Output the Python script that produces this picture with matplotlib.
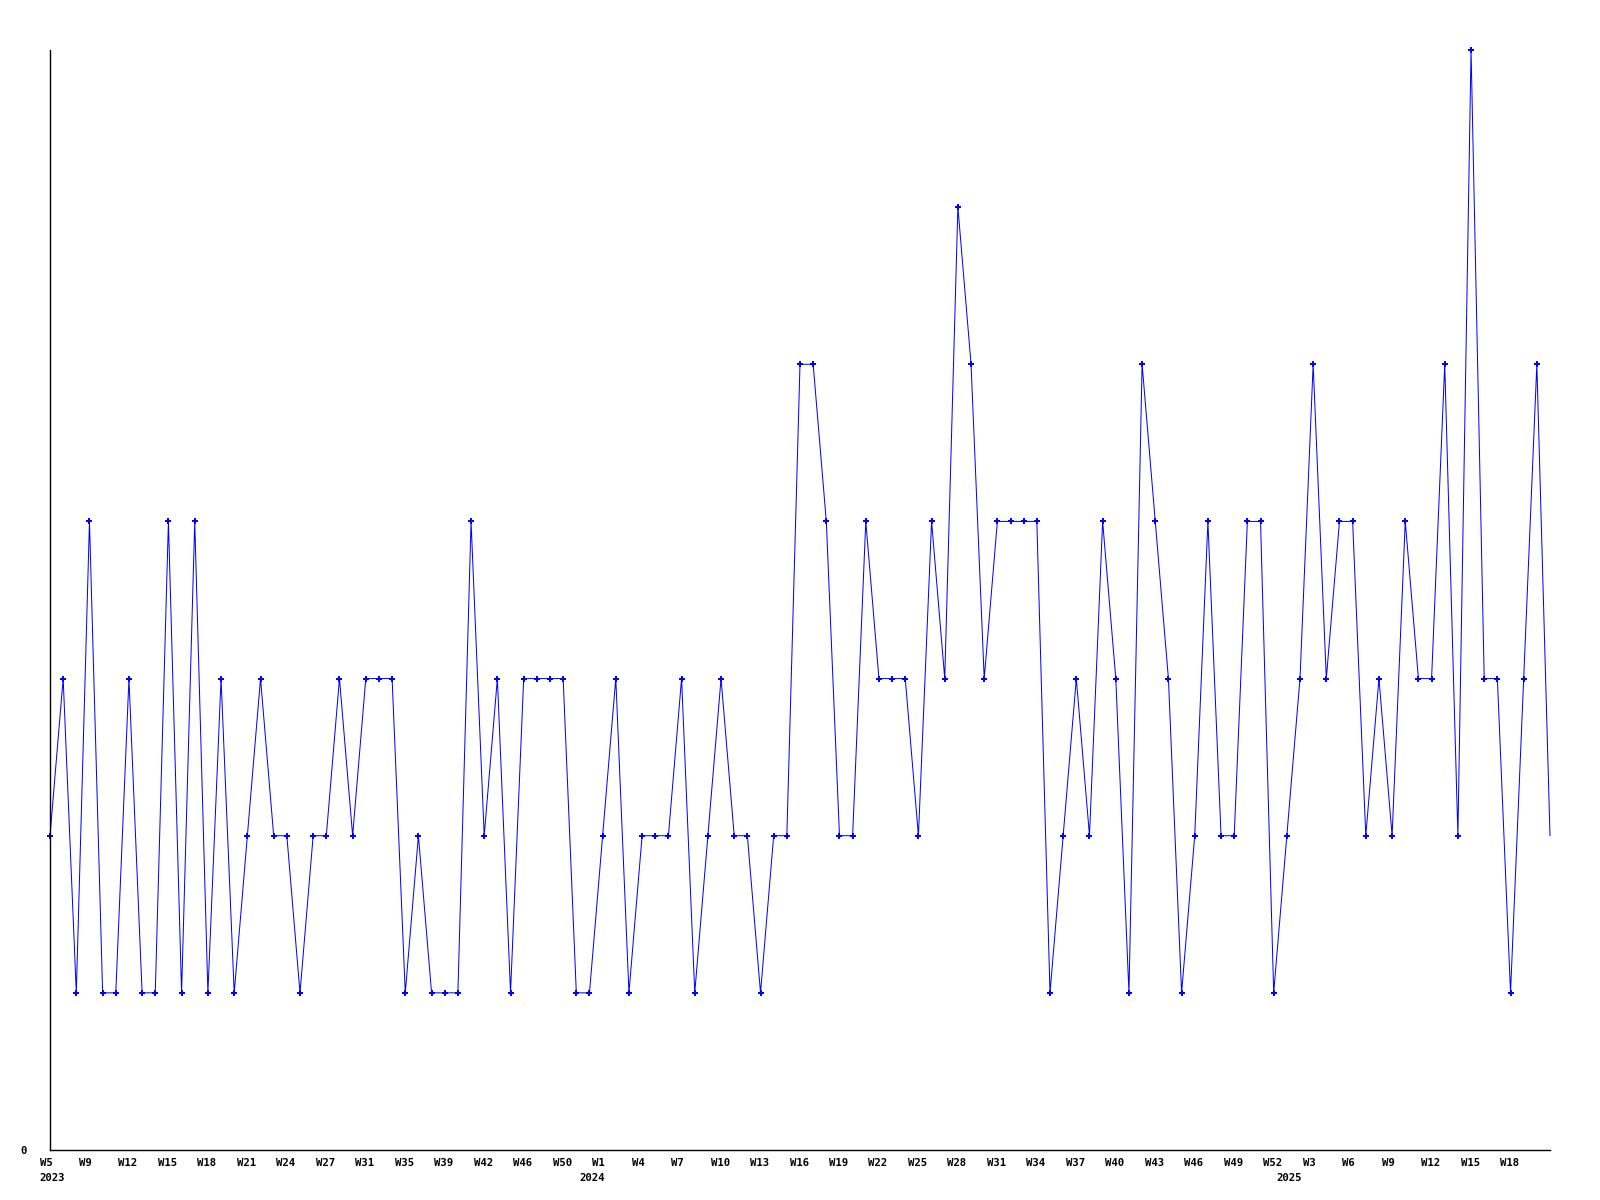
import matplotlib
matplotlib.use("Agg")
import matplotlib.pyplot as plt
from matplotlib.transforms import offset_copy

# weekly counts, 2023 W5 .. 2025 W21
values = [2, 3, 1, 4, 1, 1, 3, 1, 1, 4, 1, 4, 1, 3, 1, 2, 3, 2, 2, 1,
          2, 2, 3, 2, 3, 3, 3, 1, 2, 1, 1, 1, 4, 2, 3, 1, 3, 3, 3, 3,
          1, 1, 2, 3, 1, 2, 2, 2, 3, 1, 2, 3, 2, 2, 1, 2, 2, 5, 5, 4,
          2, 2, 4, 3, 3, 3, 2, 4, 3, 6, 5, 3, 4, 4, 4, 4, 1, 2, 3, 2,
          4, 3, 1, 5, 4, 3, 1, 2, 4, 2, 2, 4, 4, 1, 2, 3, 5, 3, 4, 4,
          2, 3, 2, 4, 3, 3, 5, 2, 7, 3, 3, 1, 3, 5, 2]

# tick labels, one every third point
tick_labels = ["W5", "W9", "W12", "W15", "W18", "W21", "W24", "W27", "W31", "W35",
               "W39", "W42", "W46", "W50",
               "W1", "W4", "W7", "W10", "W13", "W16", "W19", "W22", "W25", "W28",
               "W31", "W34", "W37", "W40", "W43", "W46", "W49", "W52",
               "W3", "W6", "W9", "W12", "W15", "W18"]
tick_step = 3
year_labels = ["2023", "2024", "2025"]
year_points = [0, 41, 94]

W, H = 1600, 1200
fig = plt.figure(figsize=(W / 100, H / 100), dpi=100)
fig.patch.set_facecolor("white")
ax = fig.add_axes([50 / W, 50 / H, 1500 / W, 1100 / H])
n = len(values)
x = list(range(n))
ax.plot(x, values, color="#0000ff", linewidth=0.72, antialiased=True,
        marker="P", markersize=3.8, markeredgewidth=0,
        markevery=list(range(n - 1)), clip_on=False)
ax.set_xlim(0, n - 1)
ax.set_ylim(0, max(values))
for s in ["top", "right"]:
    ax.spines[s].set_visible(False)
for s in ["left", "bottom"]:
    ax.spines[s].set_color("black")
    ax.spines[s].set_linewidth(1.0)
ax.set_xticks([])
ax.set_yticks([])
ax.set_facecolor("white")

font = dict(family="DejaVu Sans Mono", fontweight="bold", fontsize=7.7, color="black")
tr_week = offset_copy(ax.transData, fig=fig, x=-10.5, y=-16, units="dots")
tr_year = offset_copy(ax.transData, fig=fig, x=-10.5, y=-31, units="dots")
for k, lab in enumerate(tick_labels):
    ax.text(k * tick_step, 0, lab, transform=tr_week, ha="left", va="baseline",
            clip_on=False, **font)
for lab, p in zip(year_labels, year_points):
    ax.text(p, 0, lab, transform=tr_year, ha="left", va="baseline",
            clip_on=False, **font)
tr_zero = offset_copy(ax.transData, fig=fig, x=-30, y=-4, units="dots")
ax.text(0, 0, "0", transform=tr_zero, ha="left", va="baseline", clip_on=False, **font)

fig.savefig("out.png", dpi=100, facecolor="white")
